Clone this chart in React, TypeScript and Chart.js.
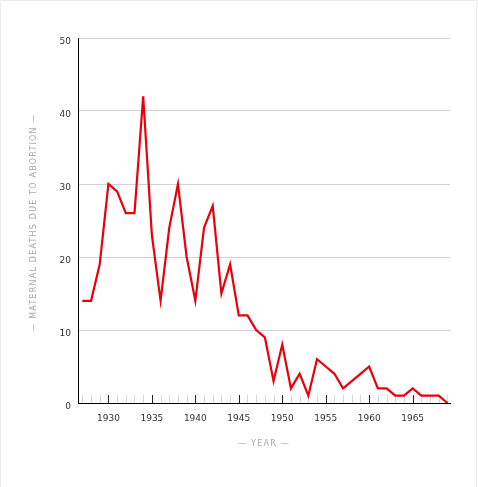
import React, { useEffect, useRef } from "react";
import { Chart, registerables } from "chart.js";

Chart.register(...registerables);

const years = [
  1927, 1928, 1929, 1930, 1931, 1932, 1933, 1934, 1935, 1936, 1937, 1938, 1939,
  1940, 1941, 1942, 1943, 1944, 1945, 1946, 1947, 1948, 1949, 1950, 1951, 1952,
  1953, 1954, 1955, 1956, 1957, 1958, 1959, 1960, 1961, 1962, 1963, 1964, 1965,
  1966, 1967, 1968, 1969,
];
const deaths = [
  14, 14, 19, 30, 29, 26, 26, 42, 23, 14, 24, 30, 20,
  14, 24, 27, 15, 19, 12, 12, 10, 9, 3, 8, 2, 4,
  1, 6, 5, 4, 2, 3, 4, 5, 2, 2, 1, 1, 2,
  1, 1, 1, 0,
];
const majorYears = [1930, 1935, 1940, 1945, 1950, 1955, 1960, 1965];
const minorYears = years;
const yTitle = "— MATERNAL DEATHS DUE TO ABORTION —";
const xTitle = "— YEAR —";

const W = 478;
const H = 487;

export default function App() {
  const ref = useRef<HTMLCanvasElement | null>(null);

  useEffect(() => {
    const canvas = ref.current;
    if (!canvas) return;

    const decor = {
      id: "decor",
      beforeDraw(chart: any) {
        const ctx = chart.ctx;
        ctx.save();
        ctx.fillStyle = "#fff";
        ctx.fillRect(0, 0, chart.width, chart.height);
        ctx.strokeStyle = "#ececec";
        ctx.lineWidth = 1;
        ctx.beginPath();
        ctx.moveTo(0.5, chart.height);
        ctx.lineTo(0.5, 0.5);
        ctx.lineTo(chart.width - 1.5, 0.5);
        ctx.lineTo(chart.width - 1.5, chart.height);
        ctx.stroke();
        ctx.restore();
      },
      beforeDatasetsDraw(chart: any) {
        const ctx = chart.ctx;
        const xs = chart.scales.x;
        const bottom = chart.chartArea.bottom;
        ctx.save();
        ctx.lineWidth = 1;
        for (const yr of minorYears) {
          if (majorYears.includes(yr)) continue;
          const px = Math.round(xs.getPixelForValue(yr)) + 0.5;
          ctx.strokeStyle = "#d8d8d8";
          ctx.beginPath();
          ctx.moveTo(px, bottom - 8);
          ctx.lineTo(px, bottom);
          ctx.stroke();
        }
        for (const yr of majorYears) {
          const px = Math.round(xs.getPixelForValue(yr)) + 0.5;
          ctx.strokeStyle = "#222";
          ctx.beginPath();
          ctx.moveTo(px, bottom - 8);
          ctx.lineTo(px, bottom);
          ctx.stroke();
        }
        ctx.restore();
      },
      afterDraw(chart: any) {
        const ctx = chart.ctx;
        const ca = chart.chartArea;
        ctx.save();
        ctx.fillStyle = "#a8a8a8";
        ctx.font = "8px 'DejaVu Sans'";
        (ctx as any).letterSpacing = "1.2px";
        ctx.textAlign = "center";
        ctx.textBaseline = "middle";
        ctx.fillText(xTitle, (ca.left + ca.right) / 2, 444);
        ctx.translate(34, (ca.top + ca.bottom) / 2 + 2);
        ctx.rotate(-Math.PI / 2);
        ctx.fillText(yTitle, 0, 0);
        ctx.restore();
      },
    };

    const chart = new Chart(canvas, {
      type: "line",
      data: {
        datasets: [
          {
            data: years.map((y, i) => ({ x: y, y: deaths[i] })),
            borderColor: "#e8000b",
            borderWidth: 2.2,
            pointRadius: 0,
            tension: 0,
            fill: false,
          },
        ],
      },
      options: {
        responsive: false,
        animation: false,
        devicePixelRatio: 1,
        layout: { padding: { top: 38, right: 28, left: 0, bottom: 0 } },
        plugins: {
          legend: { display: false },
          tooltip: { enabled: false },
          title: { display: false },
        },
        scales: {
          x: {
            type: "linear",
            min: 1926.5,
            max: 1969.3,
            afterBuildTicks(scale: any) {
              scale.ticks = majorYears.map((v) => ({ value: v }));
            },
            afterFit(scale: any) {
              scale.height = 84;
            },
            grid: { display: false, drawTicks: false },
            border: { display: true, color: "#000", width: 1 },
            ticks: {
              padding: 10,
              autoSkip: false,
              maxRotation: 0,
              color: "#333",
              font: { family: "'DejaVu Sans'", size: 9 },
              callback: (v: any) => String(v),
            },
          },
          y: {
            min: 0,
            max: 50,
            afterFit(scale: any) {
              scale.width = 78;
            },
            grid: { color: "#d2d2d2", lineWidth: 1, drawTicks: false },
            border: { display: true, color: "#000", width: 1 },
            ticks: {
              stepSize: 10,
              padding: 7,
              labelOffset: 4,
              color: "#333",
              font: { family: "'DejaVu Sans'", size: 9 },
            },
          },
        },
      },
      plugins: [decor],
    } as any);

    return () => chart.destroy();
  }, []);

  return (
    <div style={{ position: "absolute", left: 0, top: 0, width: W, height: H }}>
      <canvas ref={ref} width={W} height={H} style={{ display: "block" }} />
    </div>
  );
}
